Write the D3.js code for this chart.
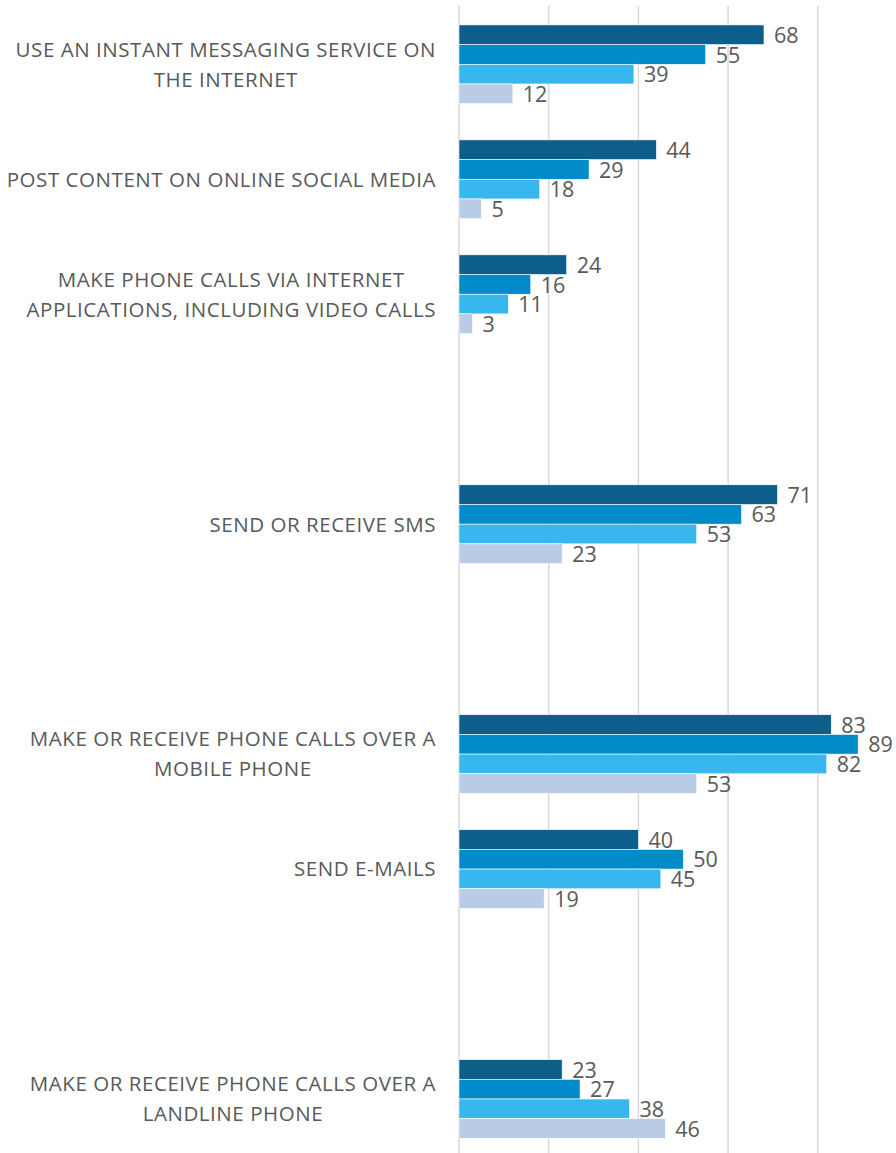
<!DOCTYPE html>
<html>
<head>
<meta charset="utf-8">
<script src="https://cdn.jsdelivr.net/npm/d3@7"></script>
<style>
  body { margin: 0; background: #fff; }
  svg text { font-family: "Open Sans", "Noto Sans", sans-serif; fill: #595959; }
</style>
</head>
<body>
<svg id="chart" width="896" height="1153"></svg>
<script>
// ── Data ─────────────────────────────────────────────────────────
// "|" marks a line break in the category label; empty strings are spacer rows
const categories = [
  "USE AN INSTANT MESSAGING SERVICE ON|THE INTERNET",
  "POST CONTENT ON ONLINE SOCIAL MEDIA",
  "MAKE PHONE CALLS VIA INTERNET|APPLICATIONS, INCLUDING VIDEO CALLS",
  "",
  "SEND OR RECEIVE SMS",
  "",
  "MAKE OR RECEIVE PHONE CALLS OVER A|MOBILE PHONE",
  "SEND E-MAILS",
  "",
  "MAKE OR RECEIVE PHONE CALLS OVER A|LANDLINE PHONE"
];
const seriesNames = ["s1", "s2", "s3", "s4"];
const s1 = [68, 44, 24, null, 71, null, 83, 40, null, 23];
const s2 = [55, 29, 16, null, 63, null, 89, 50, null, 27];
const s3 = [39, 18, 11, null, 53, null, 82, 45, null, 38];
const s4 = [12,  5,  3, null, 23, null, 53, 19, null, 46];
const seriesColors = ["#0e5e8c", "#028bc9", "#37b7ee", "#b8cde5"];
const gridTicks = [0, 20, 40, 60, 80, 100];

// ── Config ───────────────────────────────────────────────────────
const W = 896, H = 1153;
const PLOT_LEFT = 459;
const LABEL_RIGHT = 436;

const svg = d3.select("#chart");

const x = d3.scaleLinear().domain([0, 100]).range([PLOT_LEFT, PLOT_LEFT + 448.5]);
const y = d3.scaleBand().domain(d3.range(categories.length)).range([6.8, 1156.5]).padding(0);
const yInner = d3.scaleBand().domain(seriesNames).range([0, y.bandwidth()])
  .paddingInner(0).paddingOuter(0.92);

// ── Gridlines ────────────────────────────────────────────────────
svg.append("g")
  .selectAll("line")
  .data(gridTicks)
  .join("line")
  .attr("x1", d => x(d)).attr("x2", d => x(d))
  .attr("y1", 6).attr("y2", H)
  .attr("stroke", "#d9d9d9")
  .attr("stroke-width", 1.5);

// ── Bars ─────────────────────────────────────────────────────────
const allSeries = [s1, s2, s3, s4];
const rows = [];
categories.forEach((c, i) => {
  allSeries.forEach((s, k) => {
    if (s[i] != null) rows.push({ cat: i, series: seriesNames[k], k, value: s[i] });
  });
});

const barG = svg.append("g");
barG.selectAll("rect")
  .data(rows)
  .join("rect")
  .attr("x", x(0))
  .attr("y", d => y(d.cat) + yInner(d.series))
  .attr("width", d => x(d.value) - x(0))
  .attr("height", yInner.bandwidth())
  .attr("fill", d => seriesColors[d.k])
  .attr("stroke", "#ffffff")
  .attr("stroke-width", 0.6);

barG.selectAll("text")
  .data(rows)
  .join("text")
  .attr("x", d => x(d.value) + 10)
  .attr("y", d => y(d.cat) + yInner(d.series) + yInner.bandwidth() / 2)
  .attr("dy", "0.38em")
  .style("font-size", "21.5px")
  .text(d => d.value);

// ── Category labels ──────────────────────────────────────────────
const LINE_H = 30;
categories.forEach((c, i) => {
  if (!c) return;
  const lines = c.split("|");
  const cy = y(i) + y.bandwidth() / 2;
  const t = svg.append("text")
    .attr("text-anchor", "middle")
    .style("font-size", "20.5px")
    .style("letter-spacing", "0.55px");
  lines.forEach((ln, j) => {
    t.append("tspan")
      .attr("y", cy + (j - (lines.length - 1) / 2) * LINE_H)
      .attr("dy", "0.36em")
      .text(ln);
  });
  let maxW = 0;
  t.selectAll("tspan").each(function() {
    maxW = Math.max(maxW, this.getComputedTextLength());
  });
  t.selectAll("tspan").attr("x", LABEL_RIGHT - maxW / 2);
});
</script>
</body>
</html>
